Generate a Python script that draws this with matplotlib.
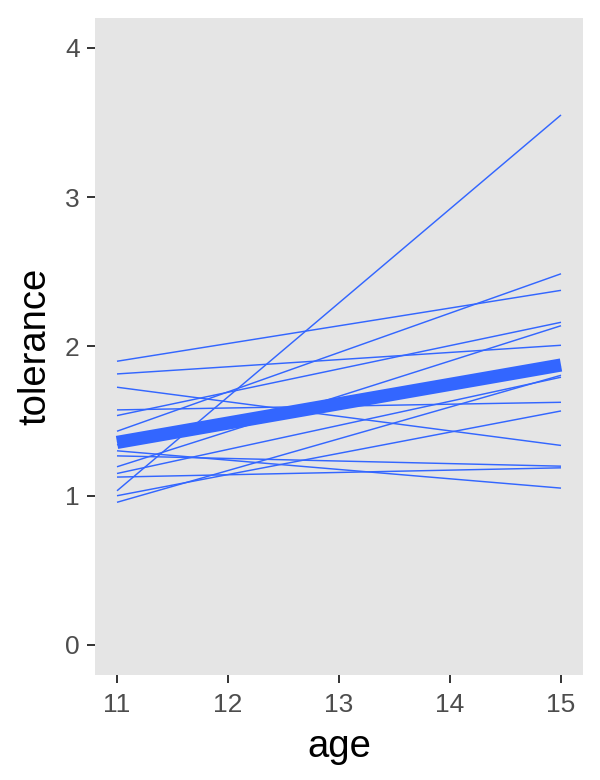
import numpy as np
import matplotlib
matplotlib.use("Agg")
import matplotlib.pyplot as plt

# fitted tolerance per subject at the start and end ages
ages = [11, 15]
tol_age11 = [1.90, 1.815, 1.726, 1.574, 1.536, 1.431, 1.266, 1.193,
             1.148, 1.124, 1.032, 0.999, 0.955, 1.30, 1.36, 1.34]
tol_age15 = [2.375, 2.007, 1.336, 1.625, 2.161, 2.486, 1.197, 2.138,
             1.793, 1.186, 3.55, 1.567, 1.806, 1.050, 1.87, 1.85]

x_ticks = [11, 12, 13, 14, 15]
y_ticks = [0, 1, 2, 3, 4]

blue = "#3366FF"
plt.rcParams['font.family'] = ['Liberation Sans', 'DejaVu Sans']

fig = plt.figure(figsize=(6, 7.8), dpi=100)
ax = fig.add_axes([0.158, 0.135, 0.814, 0.842])
ax.set_facecolor("#E5E5E5")

# una línea por sujeto
for a, b in zip(tol_age11, tol_age15):
    ax.plot(ages, [a, b], color=blue, lw=1.05, solid_capstyle="butt")

# línea media gruesa
mean_line = [np.mean(tol_age11), np.mean(tol_age15)]
ax.plot(ages, mean_line, color=blue, lw=9.5, solid_capstyle="butt")

ax.set_xlim(10.8, 15.2)
ax.set_ylim(-0.2, 4.2)
ax.set_xticks(x_ticks)
ax.set_yticks(y_ticks)
for s in ax.spines.values():
    s.set_visible(False)
ax.tick_params(length=6, width=1.4, color="#333333", labelcolor="#4D4D4D",
               labelsize=19, pad=5)
ax.tick_params(axis="x", pad=7)
ax.set_xlabel("age", fontsize=27.5, color="black", labelpad=9)
ax.set_ylabel("tolerance", fontsize=27.5, color="black", labelpad=8)

fig.savefig("out.png", dpi=100)
